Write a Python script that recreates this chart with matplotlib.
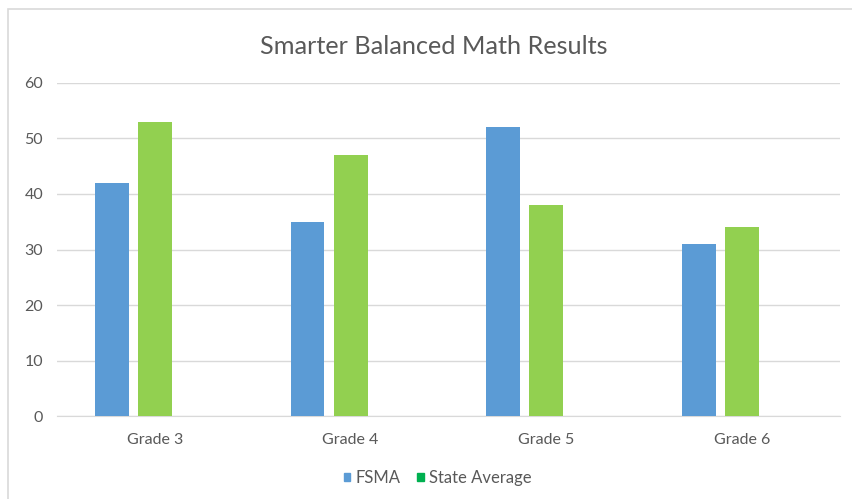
import numpy as np
import matplotlib.pyplot as plt
from matplotlib.patches import Patch, Rectangle

categories = ['Grade 3', 'Grade 4', 'Grade 5', 'Grade 6']
fsma = [42, 35, 52, 31]
state_avg = [53, 47, 38, 34]
y_ticks = [0, 10, 20, 30, 40, 50, 60]

blue = '#5B9BD5'
green = '#92D050'
legend_green = '#00B050'
txt = '#595959'

plt.rcParams['font.family'] = ['Lato', 'DejaVu Sans']

fig = plt.figure(figsize=(8.53, 4.99), dpi=100)
ax = fig.add_axes([0.0668, 0.1663, 0.918, 0.6674])

# chart frame
fig.patches.append(Rectangle((0.009, -0.05), 1.05, 1.032, transform=fig.transFigure,
	fill=False, edgecolor='#D9D9D9', linewidth=1.2))

x = np.arange(len(categories))
w = 0.173
step = 0.22
ax.bar(x - step, fsma, w, color=blue, zorder=3)
ax.bar(x, state_avg, w, color=green, zorder=3)

ax.set_xlim(-0.5, len(categories) - 0.5)
ax.set_ylim(0, 60)
ax.set_yticks(y_ticks)
ax.set_xticks(x)
ax.set_xticklabels(categories)
ax.tick_params(length=0, labelcolor=txt, labelsize=11.5)
ax.tick_params(axis='y', pad=10)
ax.tick_params(axis='x', pad=12)
ax.grid(axis='y', color='#D9D9D9', linewidth=1, zorder=0)
for s in ['top', 'right', 'left']:
	ax.spines[s].set_visible(False)
ax.spines['bottom'].set_color('#D9D9D9')

fig.text(0.509, 0.906, 'Smarter Balanced Math Results', ha='center', va='center',
	fontsize=18.2, color=txt)

handles = [Patch(color=blue, label='FSMA'), Patch(color=legend_green, label='State Average')]
fig.legend(handles=handles, loc='center', bbox_to_anchor=(0.513, 0.042), ncol=2, frameon=False,
	fontsize=12, labelcolor=txt, handlelength=0.4, handleheight=0.4, handletextpad=0.3,
	columnspacing=1.0)

plt.savefig('out.png', dpi=100)
